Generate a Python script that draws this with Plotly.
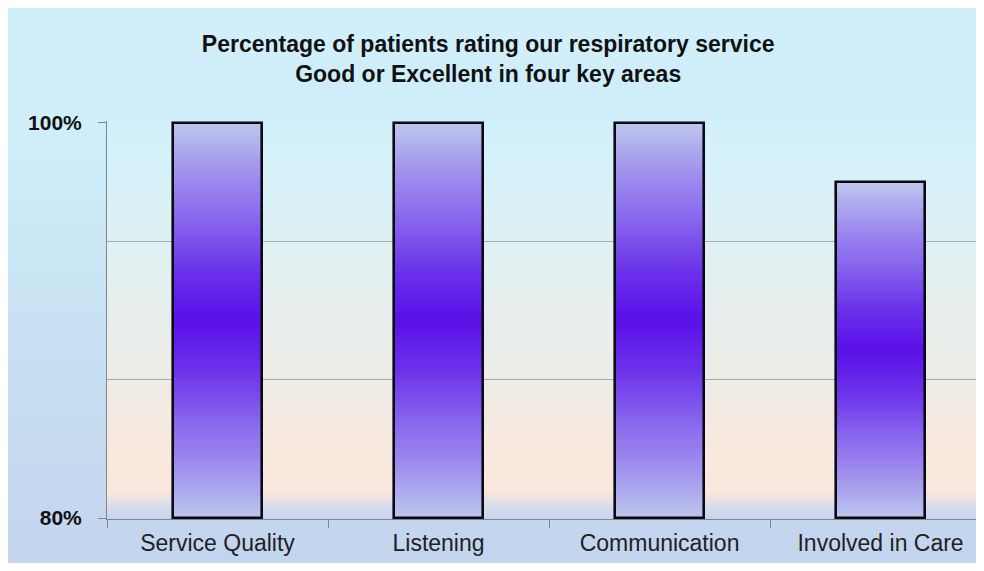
import plotly.graph_objects as go

categories = ["Service Quality", "Listening", "Communication", "Involved in Care"]
values = [100, 100, 100, 97]
axis_min = 80
y_tick_vals = [80, 100]
y_tick_text = ["<b>80%</b>", "<b>100%</b>"]
grid_vals = [87, 94]
title_text = "<b>Percentage of patients rating our respiratory service<br>Good or Excellent in four key areas</b>"

# figure sits at page offset (8, 8) because of the default body margin
W, H = 976, 555
ML, MR, MT, MB = 99, 0, 113, 44
PW, PH = W - ML - MR, H - MT - MB


def hex2rgb(h):
    h = h.lstrip("#")
    return [int(h[i:i + 2], 16) for i in (0, 2, 4)]


def interp(stops, t):
    for (t0, c0), (t1, c1) in zip(stops[:-1], stops[1:]):
        if t0 <= t <= t1:
            f = 0 if t1 == t0 else (t - t0) / (t1 - t0)
            a, b = hex2rgb(c0), hex2rgb(c1)
            return "rgb(%d,%d,%d)" % tuple(round(a[i] + (b[i] - a[i]) * f) for i in range(3))
    return stops[-1][1] if t > stops[-1][0] else stops[0][1]


def px2paper_x(px):
    return (px - ML) / PW


def px2paper_y(py):
    return (H - MB - py) / PH


shapes = []

# outer chart-area gradient (figure pixel y stops)
outer_stops = [(0, "#d0effb"), (115, "#cfeefa"), (292, "#c9e3f3"), (563, "#c3d4ee")]
step = 4
py = 0
while py < H:
    shapes.append(dict(type="rect", xref="paper", yref="paper", layer="below",
                       x0=px2paper_x(-2), x1=px2paper_x(W + 2),
                       y0=px2paper_y(min(py + step + 0.6, H + 2)), y1=px2paper_y(py),
                       fillcolor=interp(outer_stops, py + step / 2), line=dict(width=0)))
    py += step

# plot-area gradient (figure pixel y stops)
plot_stops = [(113, "#d3f1fb"), (192, "#d9f1f7"), (252, "#e2f0f1"), (322, "#e8eeeb"),
              (392, "#f1ebe4"), (442, "#f9e9df"), (480, "#fbe8dc"), (490, "#ede3e2"),
              (499, "#d4dcec"), (511, "#c9d5ee")]
step = 3
py = 113
while py < 511:
    shapes.append(dict(type="rect", xref="paper", yref="paper", layer="below",
                       x0=0, x1=1.01,
                       y0=px2paper_y(min(py + step + 0.6, 511)), y1=px2paper_y(py),
                       fillcolor=interp(plot_stops, py + step / 2), line=dict(width=0)))
    py += step

fig = go.Figure()

# bars with a gradient that darkens toward the middle
bar_stops = [(0.0, "#5a0ee8"), (0.25, "#6a30ea"), (0.5, "#8562ec"), (0.7, "#9a85ee"),
             (0.85, "#aaa4ee"), (1.0, "#bcc4ee")]
N = 45
bar_w = 0.40
for k in range(N):
    t = 1 - k / N
    heights = [(v - axis_min) * t for v in values]
    bases = [axis_min + (v - axis_min) * (1 - t) / 2 for v in values]
    fig.add_trace(go.Bar(x=categories, y=heights, base=bases, width=bar_w,
                         marker=dict(color=interp(bar_stops, t), line=dict(width=0)),
                         hoverinfo="skip", showlegend=False))

fig.add_trace(go.Bar(x=categories, y=[v - axis_min for v in values], base=axis_min, width=bar_w,
                     marker=dict(color="rgba(0,0,0,0)", line=dict(color="#0a0a14", width=2.6)),
                     showlegend=False,
                     hovertemplate="%{x}: %{customdata}%<extra></extra>", customdata=values))

fig.update_layout(
    width=W, height=H,
    margin=dict(l=ML, r=MR, t=MT, b=MB, pad=0),
    paper_bgcolor="#cbe4f4",
    plot_bgcolor="rgba(0,0,0,0)",
    barmode="overlay",
    bargap=0,
    shapes=shapes,
    showlegend=False,
    title=dict(text=title_text, x=0.492, xanchor="center", y=1 - 44 / H, yanchor="middle",
               font=dict(family="Liberation Sans Narrow, Arial Narrow, sans-serif", size=23, color="#111111")),
    xaxis=dict(range=[-0.5, 3.468], showline=True, linecolor="#7e868e", linewidth=1,
               ticks="outside", tickson="boundaries", ticklen=8, tickcolor="#7e868e",
               showgrid=False, fixedrange=True, ticklabelstandoff=3,
               tickfont=dict(family="Liberation Sans, Arial, sans-serif", size=23, color="#222222")),
    yaxis=dict(range=[79.95, 100.1], showline=True, linecolor="#7e868e", linewidth=1,
               tickvals=y_tick_vals, ticktext=y_tick_text, ticks="outside", ticklen=8,
               tickcolor="#7e868e", showgrid=False, zeroline=False, ticklabelstandoff=12,
               tickfont=dict(family="Liberation Sans, Arial, sans-serif", size=21, color="#111111"),
               minor=dict(tickvals=grid_vals, showgrid=True, gridcolor="#a4abae", gridwidth=1, ticks="")),
)

fig.write_html("out.html")
